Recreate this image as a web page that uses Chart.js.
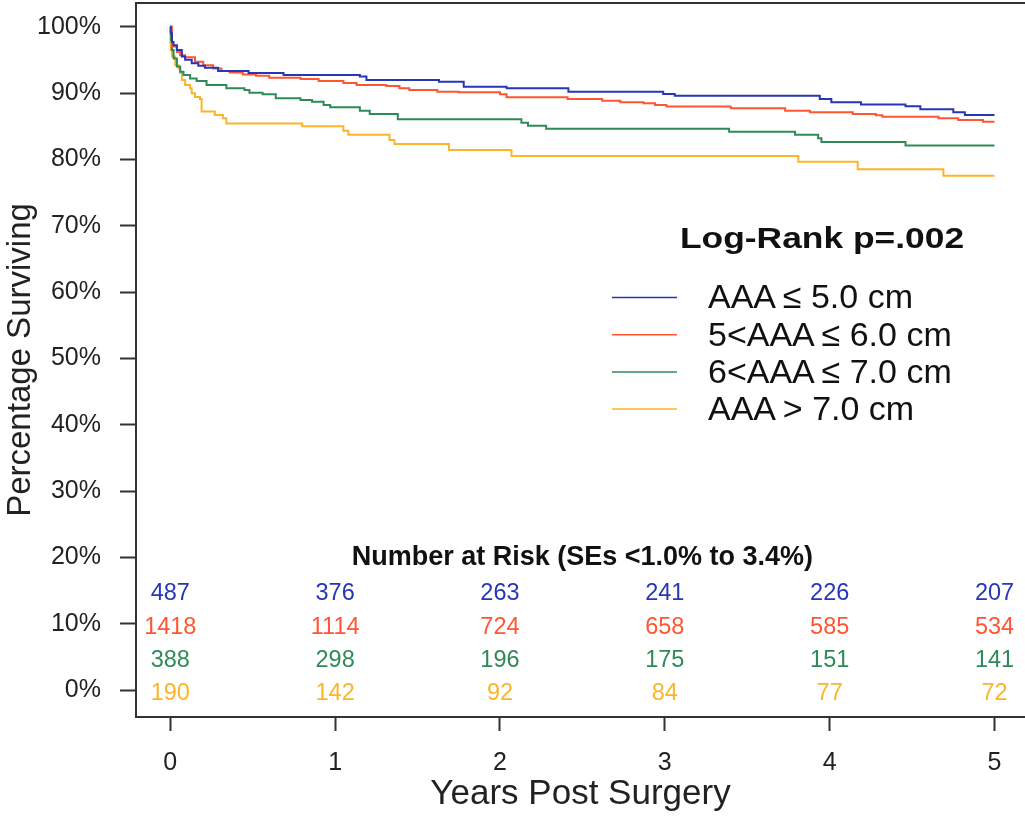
<!DOCTYPE html>
<html>
<head>
<meta charset="utf-8">
<title>Survival by AAA size</title>
<script src="https://cdn.jsdelivr.net/npm/chart.js@4.4.1/dist/chart.umd.min.js"></script>
<style>
  html, body { margin: 0; padding: 0; background: #fff; overflow: hidden; }
  #chart { display: block; }
</style>
</head>
<body>
<canvas id="chart" width="1025" height="834"></canvas>
<script>
// Kaplan-Meier survival by aneurysm diameter (years post surgery, % surviving)
const FONT = '"Liberation Sans", Arial, Helvetica, sans-serif';

const groupLabels = ["AAA\u2009\u2264 5.0 cm", "5<AAA\u2009\u2264 6.0 cm", "6<AAA\u2009\u2264 7.0 cm", "AAA\u2009> 7.0 cm"];
const groupColors = ["#2636b8", "#ff5533", "#2e8b57", "#fbb52a"];

// step times (years) and survival (%) after each step
const le5Times = [0, 0.003, 0.01, 0.02, 0.04, 0.07, 0.09, 0.13, 0.17, 0.21, 0.29, 0.475, 0.687, 1.15, 1.19, 1.63, 1.78, 2.04, 2.415, 2.99, 3.06, 3.94, 4.01, 4.19, 4.46, 4.55, 4.75, 4.82, 5.0];
const le5Surv  = [100, 99.0, 97.7, 97.2, 96.5, 95.5, 95.0, 94.5, 94.1, 93.8, 93.3, 93.0, 92.7, 92.5, 91.97, 91.7, 90.96, 90.7, 90.2, 89.85, 89.6, 89.1, 88.6, 88.25, 88.0, 87.55, 87.1, 86.7, 86.7];

const le6Times = [0, 0.01, 0.04, 0.06, 0.09, 0.15, 0.20, 0.26, 0.31, 0.36, 0.44, 0.52, 0.60, 0.79, 0.90, 1.05, 1.13, 1.31, 1.39, 1.45, 1.62, 1.75, 2.0, 2.04, 2.41, 2.62, 2.73, 2.87, 2.94, 3.01, 3.4, 3.73, 3.88, 4.14, 4.28, 4.32, 4.66, 4.78, 4.93, 5.0];
const le6Surv  = [100, 97.0, 96.2, 95.7, 95.4, 94.7, 94.2, 93.7, 93.3, 93.1, 92.8, 92.6, 92.3, 92.1, 91.8, 91.5, 91.2, 91.06, 90.7, 90.45, 90.2, 90.1, 89.8, 89.35, 89.1, 88.85, 88.6, 88.45, 88.2, 87.95, 87.7, 87.34, 87.1, 86.84, 86.64, 86.44, 86.19, 85.94, 85.68, 85.68];

const le7Times = [0, 0.003, 0.005, 0.01, 0.02, 0.04, 0.06, 0.08, 0.12, 0.16, 0.22, 0.34, 0.45, 0.48, 0.56, 0.64, 0.79, 0.86, 0.93, 0.97, 1.15, 1.21, 1.38, 2.13, 2.17, 2.28, 3.39, 3.79, 3.93, 3.95, 4.46, 5.0];
const le7Surv  = [100, 99.3, 98.0, 96.5, 95.2, 94.0, 93.2, 92.7, 92.2, 91.8, 91.2, 90.7, 90.45, 90.05, 89.8, 89.2, 88.95, 88.7, 88.2, 87.85, 87.34, 86.84, 86.04, 85.5, 85.07, 84.6, 84.17, 83.72, 83.17, 82.6, 82.1, 82.1];

const gt7Times = [0, 0.001, 0.003, 0.01, 0.03, 0.05, 0.06, 0.07, 0.09, 0.12, 0.13, 0.15, 0.18, 0.19, 0.27, 0.32, 0.34, 0.80, 1.05, 1.08, 1.33, 1.36, 1.69, 2.07, 3.81, 4.17, 4.69, 5.0];
const gt7Surv  = [100, 97.5, 96.5, 95.5, 94.2, 93.7, 93.0, 91.96, 91.2, 90.7, 89.96, 89.4, 89.1, 87.2, 86.7, 86.2, 85.4, 85.0, 84.3, 83.7, 82.9, 82.3, 81.4, 80.5, 79.65, 78.5, 77.54, 77.54];

// number at risk at each year
const riskYears = [0, 1, 2, 3, 4, 5];
const riskLe5 = [487, 376, 263, 241, 226, 207];
const riskLe6 = [1418, 1114, 724, 658, 585, 534];
const riskLe7 = [388, 298, 196, 175, 151, 141];
const riskGt7 = [190, 142, 92, 84, 77, 72];

const xTicks = [0, 1, 2, 3, 4, 5];
const yTicks = [0, 10, 20, 30, 40, 50, 60, 70, 80, 90, 100];

const logRankText = "Log-Rank p=.002";
const riskTitle = "Number at Risk (SEs <1.0% to 3.4%)";

const seriesTimes = [le5Times, le6Times, le7Times, gt7Times];
const seriesSurv = [le5Surv, le6Surv, le7Surv, gt7Surv];
const riskRows = [riskLe5, riskLe6, riskLe7, riskGt7];

// y levels (in % units) where the risk table rows sit
const riskRowLevels = [14.5, 9.4, 4.5, -0.6];
const riskTitleLevel = 20;

function toPoints(times, surv) {
  return times.map((t, i) => ({ x: t, y: surv[i] }));
}

/**
 * Box around the plot, legend block and number-at-risk table
 */
const annotations = {
  id: "annotations",
  afterDraw(chart) {
    const { ctx, chartArea: a, scales: { x, y } } = chart;
    ctx.save();

    // open box (right side runs off the canvas)
    ctx.strokeStyle = "#333";
    ctx.lineWidth = 2;
    ctx.beginPath();
    ctx.moveTo(a.right + 2, a.top);
    ctx.lineTo(a.left, a.top);
    ctx.lineTo(a.left, a.bottom);
    ctx.lineTo(a.right + 2, a.bottom);
    ctx.stroke();

    // legend: p-value heading is set in a wide bold face
    ctx.textBaseline = "middle";
    ctx.textAlign = "left";
    ctx.fillStyle = "#111";
    ctx.save();
    ctx.translate(680, 240);
    ctx.scale(1.22, 1);
    ctx.font = "bold 29px " + FONT;
    ctx.fillText(logRankText, 0, 0);
    ctx.restore();

    ctx.font = "34px " + FONT;
    groupLabels.forEach((label, i) => {
      const ly = 297.5 + i * 37.2;
      ctx.strokeStyle = groupColors[i];
      ctx.lineWidth = 1.5;
      ctx.beginPath();
      ctx.moveTo(612, ly);
      ctx.lineTo(677, ly);
      ctx.stroke();
      ctx.fillStyle = "#111";
      ctx.fillText(label, 708, ly + 1.5);
    });

    // number at risk
    ctx.textAlign = "center";
    ctx.fillStyle = "#111";
    ctx.font = "bold 27px " + FONT;
    ctx.fillText(riskTitle, x.getPixelForValue(2.5), y.getPixelForValue(riskTitleLevel));

    ctx.font = "23.5px " + FONT;
    riskRows.forEach((row, r) => {
      ctx.fillStyle = groupColors[r];
      const py = y.getPixelForValue(riskRowLevels[r]);
      row.forEach((n, i) => {
        ctx.fillText(String(n), x.getPixelForValue(riskYears[i]), py);
      });
    });

    ctx.restore();
  },
};

new Chart(document.getElementById("chart"), {
  type: "line",
  data: {
    datasets: seriesTimes.map((times, i) => ({
      label: groupLabels[i],
      data: toPoints(times, seriesSurv[i]),
      borderColor: groupColors[i],
      borderWidth: 2,
      pointRadius: 0,
      stepped: "before",
      fill: false,
    })),
  },
  options: {
    responsive: false,
    animation: false,
    devicePixelRatio: 1,
    layout: { padding: { top: 3, left: 0, right: 0, bottom: 0 } },
    plugins: {
      legend: { display: false },
      tooltip: { enabled: false },
    },
    scales: {
      x: {
        type: "linear",
        min: -0.208,
        max: 5.185,
        afterBuildTicks: (s) => { s.ticks = xTicks.map((v) => ({ value: v })); },
        afterFit: (s) => { s.height = 117; s.paddingLeft = 0; s.paddingRight = 0; },
        border: { display: false },
        grid: { drawOnChartArea: false, drawTicks: true, tickLength: 14, tickWidth: 2, tickColor: "#333" },
        ticks: { font: { family: FONT, size: 25 }, color: "#222", padding: 17, maxRotation: 0 },
        title: {
          display: true,
          text: "Years Post Surgery",
          color: "#222",
          font: { family: FONT, size: 35 },
          padding: { top: 0, bottom: 19 },
        },
      },
      y: {
        min: -4.07,
        max: 103.57,
        afterBuildTicks: (s) => { s.ticks = yTicks.map((v) => ({ value: v })); },
        afterFit: (s) => { s.width = 136; s.paddingTop = 0; s.paddingBottom = 0; },
        border: { display: false },
        grid: { drawOnChartArea: false, drawTicks: true, tickLength: 16, tickWidth: 2, tickColor: "#333" },
        ticks: {
          font: { family: FONT, size: 25 },
          color: "#222",
          padding: 19,
          callback: (v) => v + "%",
        },
        title: {
          display: true,
          text: "Percentage Surviving",
          color: "#222",
          font: { family: FONT, size: 33 },
          padding: { top: 1, bottom: 0 },
        },
      },
    },
  },
  plugins: [annotations],
});
</script>
</body>
</html>
